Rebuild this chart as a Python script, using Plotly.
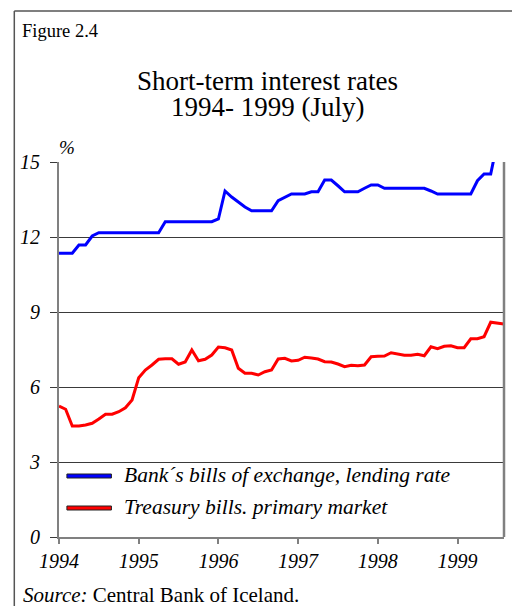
import plotly.graph_objects as go

months = list(range(68))  # monthly observations, Jan 1994 onward
year_ticks = [0, 12, 24, 36, 48, 60]
year_labels = ["1994", "1995", "1996", "1997", "1998", "1999"]

bank_bills = [11.35, 11.35, 11.35, 11.68, 11.68, 12.04, 12.17, 12.17, 12.17, 12.17,
              12.17, 12.17, 12.17, 12.17, 12.17, 12.17, 12.61, 12.61, 12.61, 12.61,
              12.61, 12.61, 12.61, 12.61, 12.72, 13.84, 13.60, 13.40, 13.20, 13.05,
              13.05, 13.05, 13.05, 13.45, 13.60, 13.72, 13.72, 13.72, 13.81, 13.81,
              14.28, 14.28, 14.05, 13.81, 13.81, 13.81, 13.95, 14.08, 14.08, 13.95,
              13.95, 13.95, 13.95, 13.95, 13.95, 13.95, 13.84, 13.72, 13.72, 13.72,
              13.72, 13.72, 13.72, 14.25, 14.52, 14.52, 15.80, 15.80]

treasury_bills = [5.24, 5.11, 4.44, 4.44, 4.48, 4.55, 4.72, 4.91, 4.91, 5.01,
                  5.17, 5.48, 6.37, 6.68, 6.88, 7.11, 7.13, 7.13, 6.91, 7.00,
                  7.48, 7.05, 7.11, 7.28, 7.60, 7.57, 7.48, 6.75, 6.55, 6.55,
                  6.48, 6.61, 6.68, 7.12, 7.15, 7.04, 7.07, 7.19, 7.16, 7.12,
                  7.01, 7.00, 6.92, 6.81, 6.87, 6.85, 6.88, 7.21, 7.23, 7.24,
                  7.37, 7.32, 7.27, 7.27, 7.31, 7.25, 7.61, 7.53, 7.63, 7.65,
                  7.57, 7.57, 7.93, 7.93, 8.01, 8.59, 8.56, 8.52]

series_names = ["Bank\u00b4s bills of exchange, lending rate", "Treasury bills. primary market"]
series_colors = ["#0000ff", "#ff0000"]

SERIF = "Liberation Serif, Times New Roman, serif"

# page has an 8px body margin; figure sized to fill the rest of the window
OFF = 8
W, H = 520 - OFF, 606 - OFF
PL, PR, PT, PB = 54, 504, 162, 537  # plot area in page pixels
L, R, T, B = PL - OFF, 520 - PR, PT - OFF, 606 - PB
PW, PH = PR - PL, PB - PT


def px(xp):
    return (xp - PL) / PW


def py(yp):
    return (PB - yp) / PH


fig = go.Figure()
for name, vals, col in zip(series_names, [bank_bills, treasury_bills], series_colors):
    fig.add_trace(go.Scatter(x=months, y=vals, mode="lines", name=name,
                             line=dict(color=col, width=3), showlegend=False))

fig.update_layout(
    width=W, height=H,
    margin=dict(l=L, r=R, t=T, b=B, pad=0),
    paper_bgcolor="white", plot_bgcolor="white",
    font=dict(family=SERIF, color="black"),
    xaxis=dict(range=[0, 67], tickvals=year_ticks, ticktext=year_labels,
               showgrid=False, zeroline=False, showline=True, linecolor="#808080",
               linewidth=2, ticks="outside", ticklen=5, tickcolor="#808080",
               tickwidth=1.5, tickfont=dict(family=SERIF, size=20, style="italic"),
               mirror=False),
    yaxis=dict(range=[0, 15], tickvals=[0, 3, 6, 9, 12, 15],
               showgrid=True, gridcolor="#3a3a3a", gridwidth=1, zeroline=False,
               showline=True, linecolor="#808080", linewidth=2,
               ticks="outside", ticklen=7, tickcolor="#3a3a3a", tickwidth=1,
               ticklabelstandoff=6,
               tickfont=dict(family=SERIF, size=20, style="italic")),
)

# right-hand frame line of the plot
fig.add_shape(type="line", xref="paper", yref="paper", x0=1, x1=1, y0=0, y1=1,
              line=dict(color="#808080", width=2.5))
# outer figure frame (left and top)
fig.add_shape(type="line", xref="paper", yref="paper", x0=px(8.8), x1=px(8.8), y0=py(11), y1=py(606),
              line=dict(color="#555555", width=1.5))
fig.add_shape(type="line", xref="paper", yref="paper", x0=px(8.8), x1=px(520), y0=py(11), y1=py(11),
              line=dict(color="#555555", width=1.5))

# legend swatches and labels
for i, (name, col) in enumerate(zip(series_names, series_colors)):
    yc = 476 + 32 * i
    fig.add_shape(type="rect", xref="paper", yref="paper",
                  x0=px(62), x1=px(107), y0=py(yc + 2), y1=py(yc - 2),
                  fillcolor=col, line=dict(color="#222222", width=1))
    fig.add_annotation(xref="paper", yref="paper", x=px(118), y=py(yc - 1), text=name,
                       showarrow=False, xanchor="left", yanchor="middle",
                       font=dict(family=SERIF, size=21.5, style="italic"))

fig.add_annotation(xref="paper", yref="paper", x=px(15), y=py(31), text="Figure 2.4",
                   showarrow=False, xanchor="left", yanchor="middle",
                   font=dict(family=SERIF, size=18.5))
fig.add_annotation(xref="paper", yref="paper", x=px(265), y=py(81), text="Short-term interest rates",
                   showarrow=False, xanchor="center", yanchor="middle",
                   font=dict(family=SERIF, size=27))
fig.add_annotation(xref="paper", yref="paper", x=px(265), y=py(107), text="1994- 1999 (July)",
                   showarrow=False, xanchor="center", yanchor="middle",
                   font=dict(family=SERIF, size=27))
fig.add_annotation(xref="paper", yref="paper", x=px(62), y=py(147), text="%",
                   showarrow=False, xanchor="center", yanchor="middle",
                   font=dict(family=SERIF, size=19, style="italic"))
fig.add_annotation(xref="paper", yref="paper", x=px(16), y=py(595),
                   text="<i>Source:</i> Central Bank of Iceland.",
                   showarrow=False, xanchor="left", yanchor="middle",
                   font=dict(family=SERIF, size=21))

fig.write_html("out.html")
